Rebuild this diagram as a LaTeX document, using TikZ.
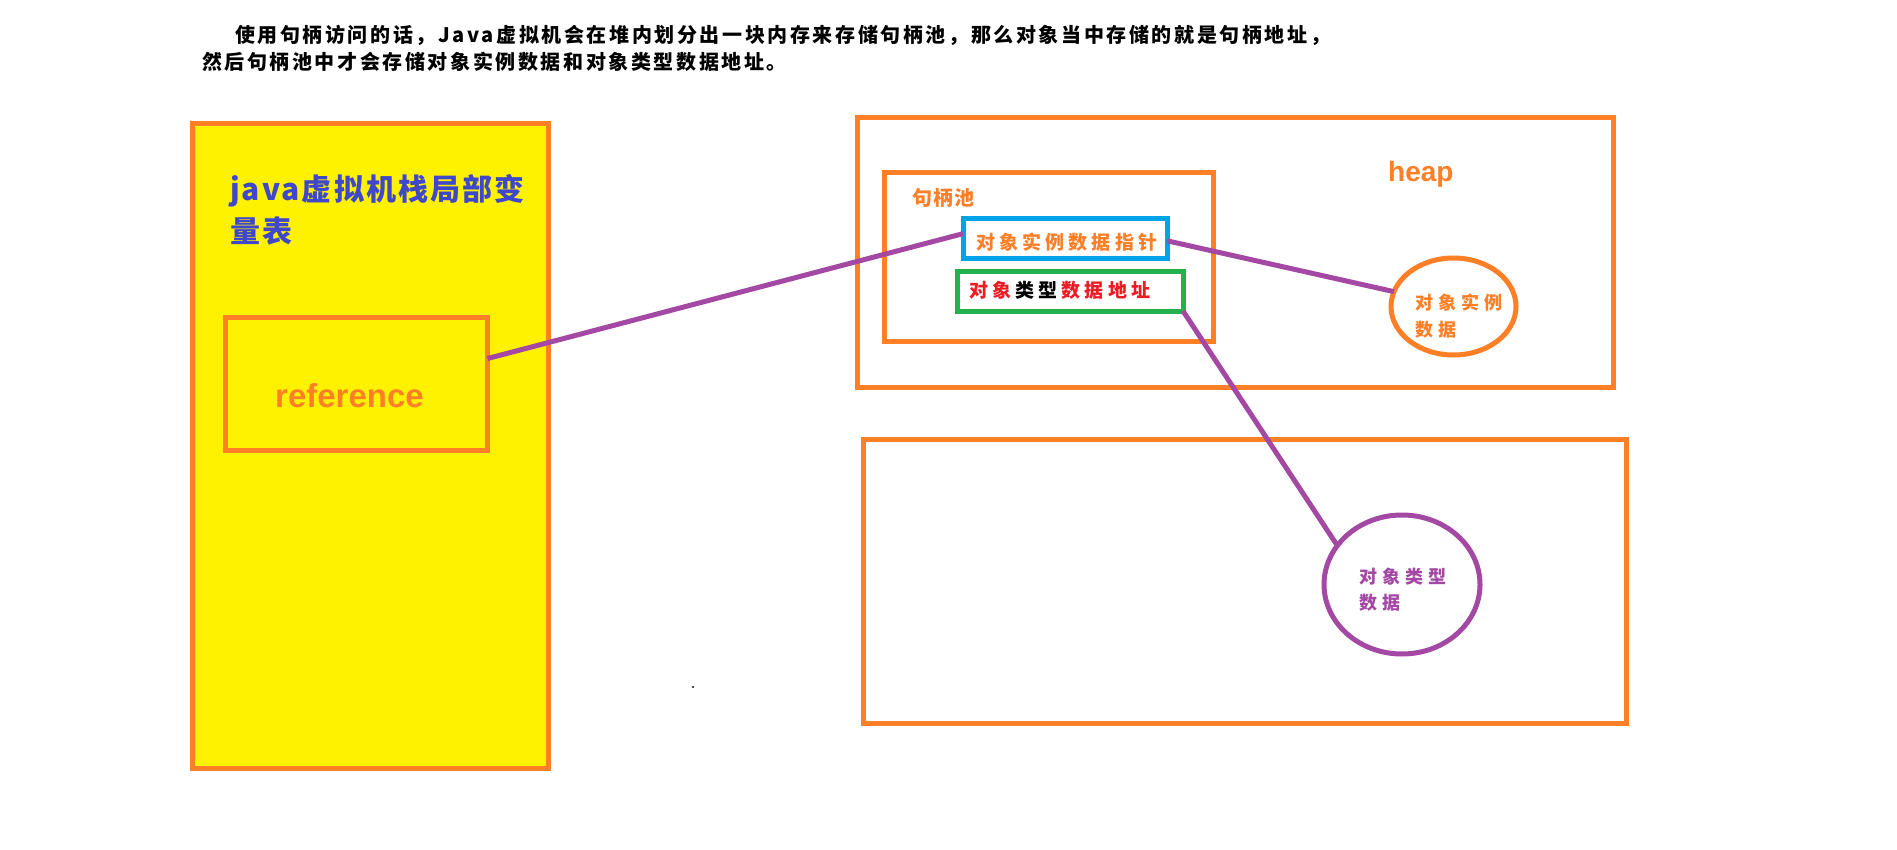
\documentclass[tikz,border=0pt]{standalone}
\usepackage{fontspec}
\setmainfont{Noto Sans CJK SC}
\newfontfamily\cjkf{Noto Sans CJK SC}
\newfontfamily\latf{Liberation Sans}
\usetikzlibrary{shapes.geometric}
\definecolor{ora}{HTML}{FF7F27}
\definecolor{yel}{HTML}{FFF200}
\definecolor{sky}{HTML}{00A2E8}
\definecolor{grn}{HTML}{22B14C}
\definecolor{pur}{HTML}{A349A4}
\definecolor{rd}{HTML}{ED1C24}
\definecolor{ind}{HTML}{3F48CC}
\newcommand\myfnt[3]{\cjkf\bfseries\fontsize{#1}{#2}\selectfont\addfontfeature{LetterSpace=#3}}
\begin{document}
\begin{tikzpicture}[x=1pt,y=-1pt,
  box/.style={draw=ora, line width=5pt, rectangle, inner sep=0pt, outer sep=0pt},
  oval/.style={ellipse, line width=5pt, inner sep=0pt, outer sep=0pt},
  conn/.style={draw=pur, line width=5pt},
  lbl/.style={inner sep=0pt, outer sep=0pt, anchor=west, align=left}]
\useasboundingbox (0,0) rectangle (1897,850);
\fill[white] (0,0) rectangle (1897,850);
% header
\node[lbl, font=\myfnt{20}{20}{13}] (hdrA) at (235,35) {使用句柄访问的话，Java虚拟机会在堆内划分出一块内存来存储句柄池，那么对象当中存储的就是句柄地址，};
\node[lbl, font=\myfnt{20}{20}{13}] (hdrB) at (202,62) {然后句柄池中才会存储对象实例数据和对象类型数据地址。};
% stack
\node[box, fill=yel, minimum width=356pt, minimum height=645.5pt] (stack) at (370.5,446) {};
\node[lbl, text=ind, font=\myfnt{30}{42}{7}] (stacklbl) at (230,210) {java虚拟机栈局部变\\量表};
\node[box, minimum width=262pt, minimum height=133pt] (ref) at (356.5,384) {};
\node[inner sep=0pt, anchor=base west, text=ora, font=\latf\bfseries\fontsize{33}{33}\selectfont] (reflbl) at (275,407) {reference};
% heap
\node[box, minimum width=756pt, minimum height=269pt] (heap) at (1235,252.5) {};
\node[inner sep=0pt, anchor=base west, text=ora, font=\latf\bfseries\fontsize{28}{28}\selectfont] (heaplbl) at (1388,182) {heap};
\node[box, minimum width=329pt, minimum height=168pt] (pool) at (1048.5,257) {};
\node[lbl, text=ora, font=\myfnt{20}{20}{5}] (poollbl) at (912,198) {句柄池};
\node[box, draw=sky, minimum width=204pt, minimum height=40pt] (ptr) at (1065,239) {};
\node[lbl, text=ora, font=\myfnt{19}{19}{22}] (ptrlbl) at (976,242) {对象实例数据指针};
\node[box, draw=grn, minimum width=226pt, minimum height=39pt] (typ) at (1070,291.5) {};
\node[lbl, font=\myfnt{19}{19}{22}] (typlbl) at (969,290) {\textcolor{rd}{对象}\kern4.18pt\textcolor{black}{类型}\kern4.18pt\textcolor{rd}{数据地址}};
\node[oval, draw=ora, minimum width=125pt, minimum height=97pt] (inst) at (1453.5,306.5) {};
\node[lbl, text=ora, font=\myfnt{18}{27}{29}] (instlbl) at (1415,316.5) {对象实例\\数据};
% lower area
\node[box, minimum width=763pt, minimum height=284pt] (meth) at (1244.5,581) {};
\node[oval, draw=pur, minimum width=156pt, minimum height=139pt] (tdat) at (1402,584.5) {};
\node[lbl, text=pur, font=\myfnt{18}{26}{29}] (tdatlbl) at (1359,590) {对象类型\\数据};
\fill[black!70] (692,686) rectangle (694,688);
% connectors
\draw[conn] (ref.11.6) -- (ptr.177.8);
\draw[conn] (ptr.-1.1) -- (inst.166.1);
\draw[conn] (typ.south east) -- (tdat.149.3);
\end{tikzpicture}
\end{document}
